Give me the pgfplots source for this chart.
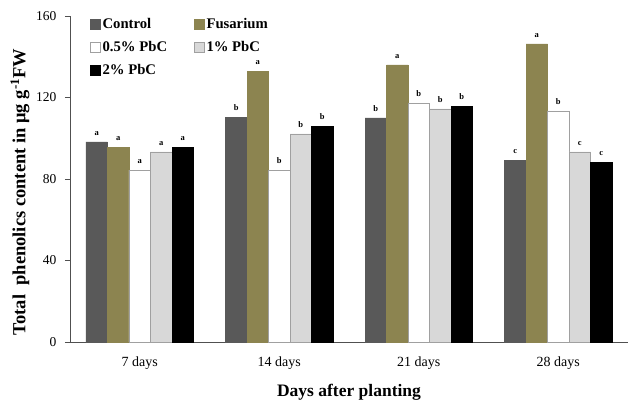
\documentclass[border=0pt]{standalone}
\usepackage{fontspec}
\setmainfont{Liberation Serif}
\usepackage{pgfplots}
\usepackage{pgfplotstable}
\pgfplotsset{compat=1.18}
\definecolor{cctrl}{RGB}{89,89,89}
\definecolor{cfus}{RGB}{140,132,80}
\definecolor{cone}{RGB}{216,216,216}
\definecolor{cedge}{RGB}{160,160,160}
\definecolor{caxis}{RGB}{80,80,80}

\pgfplotstableread{
x y l
0 98.2 a
1 110.4 b
2 110.0 b
3 89.3 c
}\tctrl
\pgfplotstableread{
x y l
0 95.7 a
1 133.0 a
2 136.0 a
3 146.3 a
}\tfus
\pgfplotstableread{
x y l
0 84.4 a
1 84.4 b
2 117.3 b
3 113.4 b
}\thalf
\pgfplotstableread{
x y l
0 93.3 a
1 102.1 b
2 114.4 b
3 93.3 c
}\tone
\pgfplotstableread{
x y l
0 95.7 a
1 106.0 b
2 115.8 b
3 88.3 c
}\ttwo

\begin{document}
\begin{tikzpicture}
\path[use as bounding box] (-70pt,-60pt) rectangle (558pt,342pt);
\begin{axis}[
  at={(0pt,0pt)}, anchor=south west,
  scale only axis,
  width=558pt, height=326pt,
  ybar=0pt, bar width=21.5pt,
  xmin=-0.5, xmax=3.5,
  ymin=0, ymax=160,
  ytick={0,40,80,120,160},
  xtick={0,1,2,3},
  xticklabels={7 days,14 days,21 days,28 days},
  major x tick style={draw=none},
  extra x ticks={-0.5,0.5,1.5,2.5},
  extra x tick labels={},
  extra x tick style={tick style={draw=caxis, thin}, major tick length=4pt, tick pos=left},
  axis lines=left,
  axis line style={-, draw=caxis, thin},
  tick style={draw=caxis, thin},
  major tick length=5pt,
  ytick pos=left,
  tick align=outside,
  clip=false,
  /pgf/number format/assume math mode=true,
  yticklabel style={font=\fontsize{13.5}{13.5}\selectfont, xshift=-5pt},
  xticklabel style={font=\fontsize{14}{14}\selectfont, yshift=-6pt},
  ylabel={\textbf{Total\ \ phenolics content in μg g\textsuperscript{-1}FW}},
  ylabel style={font=\fontsize{18.5}{19}\selectfont, at={(axis description cs:-0.0896,0.46)}, anchor=center},
  xlabel={\textbf{Days after planting}},
  xlabel style={font=\fontsize{17.5}{18}\selectfont, yshift=1pt},
  point meta=explicit symbolic,
  nodes near coords={\pgfplotspointmeta},
  nodes near coords style={font=\fontsize{8.5}{8.5}\selectfont\bfseries, yshift=3pt},
  legend columns=2,
  legend style={
    at={(20pt,326pt)}, anchor=north west,
    draw=none, fill=none, inner sep=0pt,
    font=\fontsize{14.7}{15}\selectfont\bfseries,
    row sep=7.5pt,
    /tikz/every even column/.append style={column sep=25pt},
    cells={anchor=west},
  },
  legend image code/.code={\draw[#1] (0pt,-5pt) rectangle (10pt,5pt);},
]
\addplot[fill=cctrl, draw=cctrl] table[x=x,y=y,meta=l] {\tctrl};
\addlegendentry{Control}
\addplot[fill=cfus, draw=cfus] table[x=x,y=y,meta=l] {\tfus};
\addlegendentry{Fusarium}
\addplot[fill=white, draw=cedge] table[x=x,y=y,meta=l] {\thalf};
\addlegendentry{0.5\% PbC}
\addplot[fill=cone, draw=cedge] table[x=x,y=y,meta=l] {\tone};
\addlegendentry{1\% PbC}
\addplot[fill=black, draw=black] table[x=x,y=y,meta=l] {\ttwo};
\addlegendentry{2\% PbC}
\end{axis}
\end{tikzpicture}
\end{document}
